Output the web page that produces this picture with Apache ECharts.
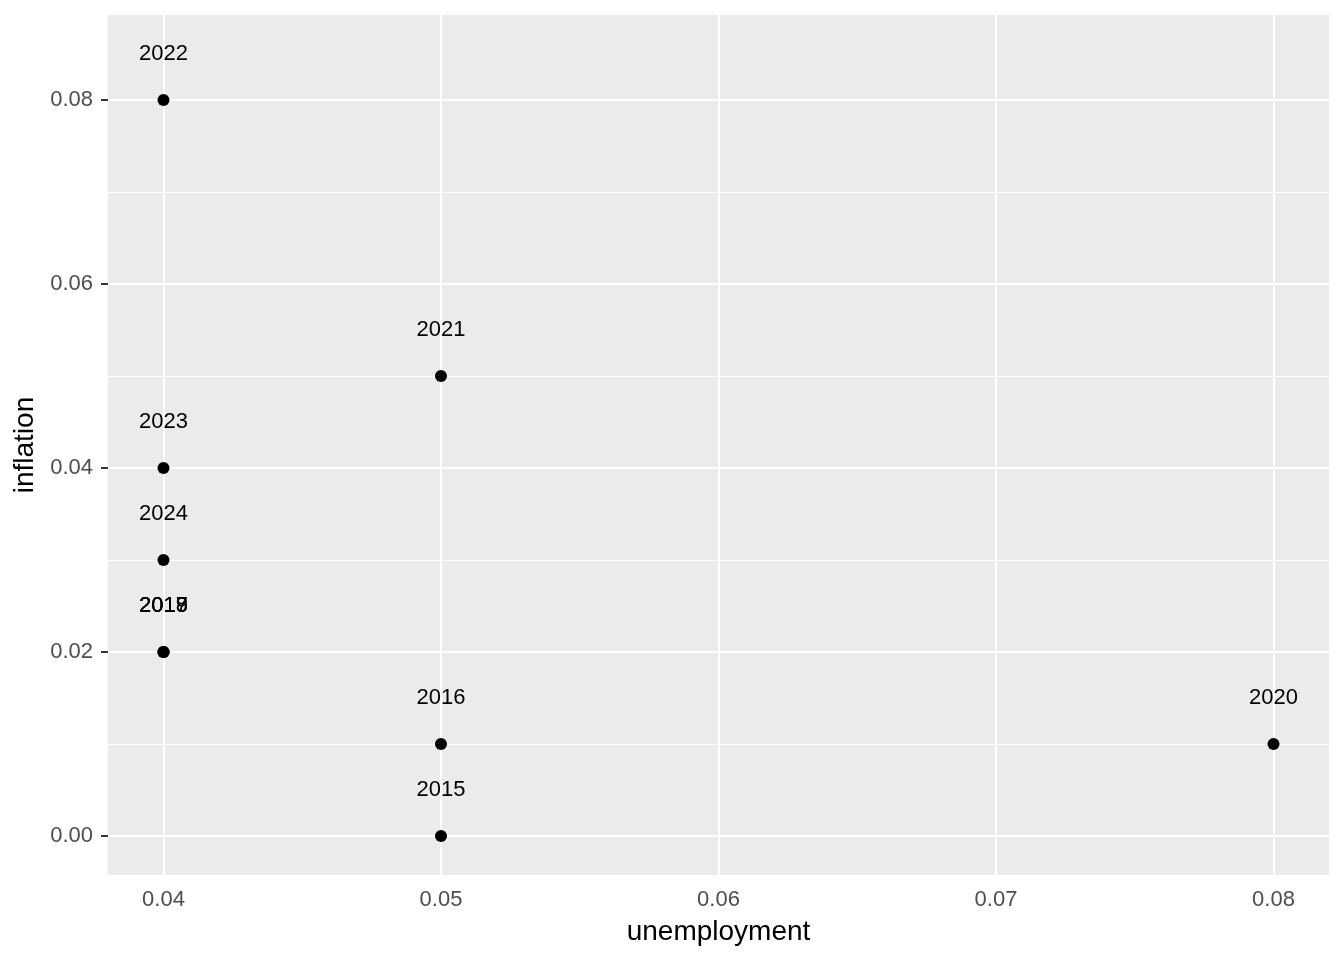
<!DOCTYPE html>
<html>
<head>
<meta charset="utf-8">
<script src="https://cdn.jsdelivr.net/npm/echarts@6/dist/echarts.min.js"></script>
<style>html,body{margin:0;padding:0;background:#fff}#c{width:1344px;height:960px}</style>
</head>
<body>
<div id="c"></div>
<script>
const years = ['2015','2016','2017','2018','2019','2020','2021','2022','2023','2024'];
const unemployment = [0.05,0.05,0.04,0.04,0.04,0.08,0.05,0.04,0.04,0.04];
const inflation = [0.00,0.01,0.02,0.02,0.02,0.01,0.05,0.08,0.04,0.03];
const xTicks = [0.04,0.05,0.06,0.07,0.08];
const xMinor = [0.045,0.055,0.065,0.075];
const yTicks = [0.00,0.02,0.04,0.06,0.08];
const yMinor = [0.01,0.03,0.05,0.07];
const labelNudge = 0.005;

const font = '"Liberation Sans", Arial, Helvetica, sans-serif';
const chart = echarts.init(document.getElementById('c'), null, {renderer:'canvas'});

const gridLines = [];
xMinor.forEach(v => gridLines.push({xAxis: v, lineStyle:{width:1}}));
yMinor.forEach(v => gridLines.push({yAxis: v, lineStyle:{width:1}}));
xTicks.forEach(v => gridLines.push({xAxis: v, lineStyle:{width:2}}));
yTicks.forEach(v => gridLines.push({yAxis: v, lineStyle:{width:2}}));

chart.setOption({
  animation: false,
  backgroundColor: '#ffffff',
  grid: {left:108, right:15, top:15, bottom:85, show:true, backgroundColor:'#EBEBEB', borderWidth:0},
  xAxis: {
    type:'value', min:0.038, max:0.082,
    name:'unemployment', nameLocation:'middle', nameGap:43,
    nameTextStyle:{color:'#000', fontSize:28, fontFamily:font},
    axisLine:{show:false},
    axisTick:{show:true, length:6, lineStyle:{color:'#333', width:2}, customValues:xTicks},
    axisLabel:{color:'#4D4D4D', fontSize:22, fontFamily:font, margin:14, customValues:xTicks, formatter:v=>v.toFixed(2)},
    splitLine:{show:false}
  },
  yAxis: {
    type:'value', min:-0.00425, max:0.08925,
    name:'inflation', nameLocation:'middle', nameGap:64,
    nameTextStyle:{color:'#000', fontSize:28, fontFamily:font},
    axisLine:{show:false},
    axisTick:{show:true, length:7, lineStyle:{color:'#333', width:2}, customValues:yTicks},
    axisLabel:{color:'#4D4D4D', fontSize:22, fontFamily:font, margin:15, customValues:yTicks, formatter:v=>v.toFixed(2)},
    splitLine:{show:false}
  },
  series: [
    {
      type:'scatter', data:[], silent:true, z:1,
      markLine:{silent:true, symbol:'none', label:{show:false}, animation:false,
        lineStyle:{color:'#ffffff', type:'solid', opacity:1}, data:gridLines}
    },
    {
      type:'scatter', z:5, symbol:'circle', symbolSize:12,
      itemStyle:{color:'#000', opacity:1},
      data: unemployment.map((u,i)=>[u, inflation[i]])
    },
    {
      type:'scatter', z:6, symbolSize:0,
      itemStyle:{opacity:1},
      data: unemployment.map((u,i)=>({value:[u, inflation[i]+labelNudge], name:years[i]})),
      label:{show:true, position:'inside', formatter:p=>p.name, color:'#000', opacity:1, fontSize:22, fontFamily:font}
    }
  ]
});
</script>
</body>
</html>
